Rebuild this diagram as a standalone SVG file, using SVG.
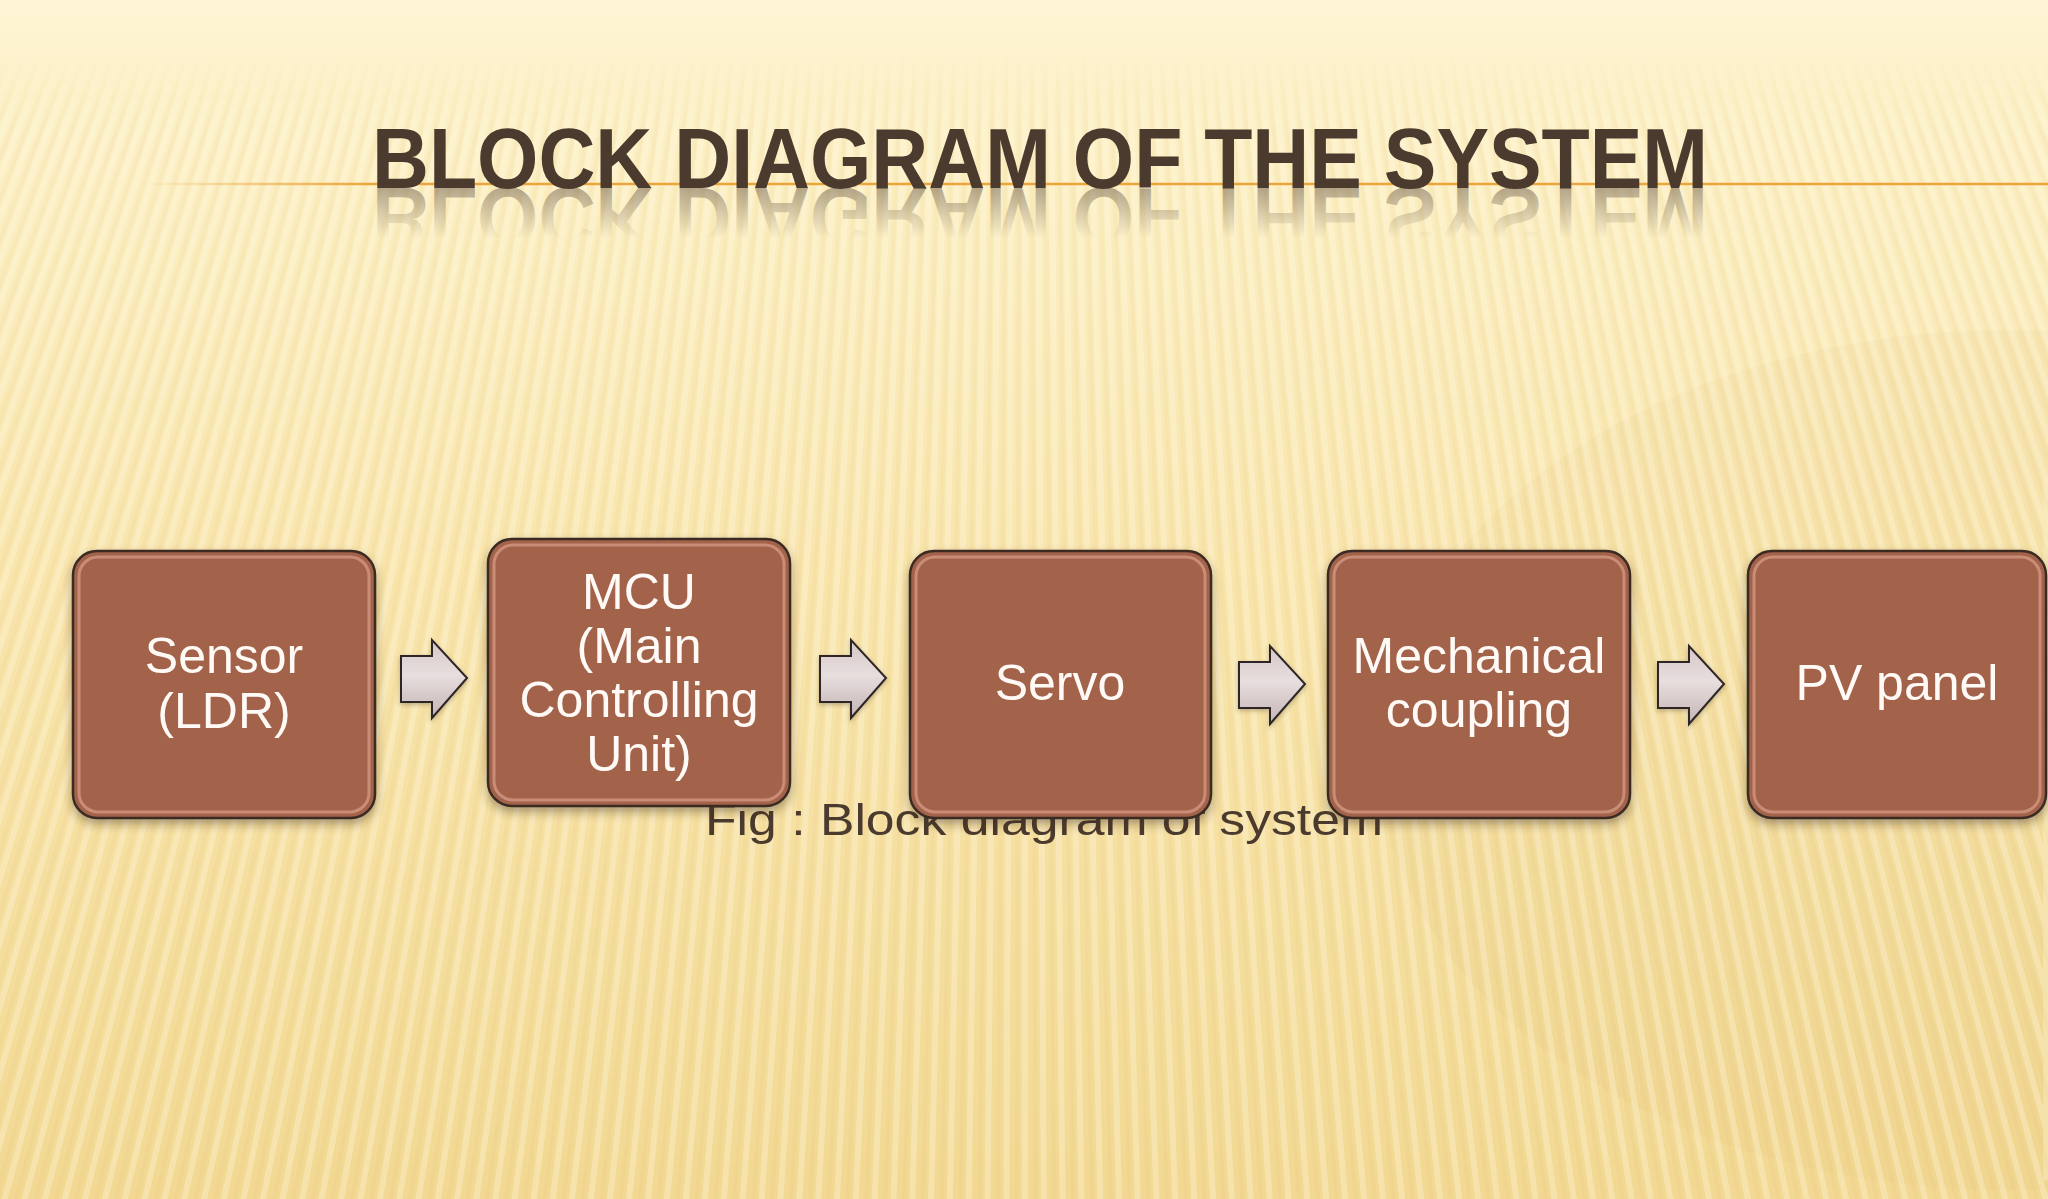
<svg xmlns="http://www.w3.org/2000/svg" xmlns:xlink="http://www.w3.org/1999/xlink" width="2048" height="1199" viewBox="0 0 2048 1199">
  <defs>
    <linearGradient id="bg" x1="0" y1="0" x2="0" y2="1">
      <stop offset="0" stop-color="#fdf5d6"/>
      <stop offset="0.08" stop-color="#fcf0c6"/>
      <stop offset="0.45" stop-color="#f9e6ae"/>
      <stop offset="1" stop-color="#f2d892"/>
    </linearGradient>
    <linearGradient id="stripeFade" gradientUnits="userSpaceOnUse" x1="0" y1="0" x2="0" y2="1199">
      <stop offset="0" stop-color="#000"/>
      <stop offset="0.04" stop-color="#000"/>
      <stop offset="0.11" stop-color="#fff"/>
      <stop offset="1" stop-color="#fff"/>
    </linearGradient>
    <mask id="stripeMask">
      <rect x="0" y="0" width="2048" height="1199" fill="url(#stripeFade)"/>
    </mask>
    <linearGradient id="lineGrad" gradientUnits="userSpaceOnUse" x1="140" y1="0" x2="2048" y2="0">
      <stop offset="0" stop-color="#eba53c" stop-opacity="0"/>
      <stop offset="0.12" stop-color="#eba53c" stop-opacity="1"/>
      <stop offset="1" stop-color="#eba53c" stop-opacity="1"/>
    </linearGradient>
    <linearGradient id="reflGrad" gradientUnits="userSpaceOnUse" x1="0" y1="188" x2="0" y2="138">
      <stop offset="0" stop-color="#6b5a48" stop-opacity="0.5"/>
      <stop offset="1" stop-color="#6b5a48" stop-opacity="0"/>
    </linearGradient>
    <linearGradient id="arrowFill" x1="0" y1="0" x2="0" y2="1">
      <stop offset="0" stop-color="#d6c6c7"/>
      <stop offset="0.45" stop-color="#e8dede"/>
      <stop offset="1" stop-color="#c4b3b5"/>
    </linearGradient>
    <filter id="shadow" x="-10%" y="-10%" width="120%" height="125%">
      <feDropShadow dx="0" dy="5" stdDeviation="5" flood-color="#3a2a1a" flood-opacity="0.4"/>
    </filter>
    <filter id="ashadow" x="-20%" y="-20%" width="140%" height="140%">
      <feDropShadow dx="0" dy="2" stdDeviation="2" flood-color="#3a2a1a" flood-opacity="0.3"/>
    </filter>
    <path id="arrowShape" d="M0,16 H31 V0 L66,38 L31,78 V62 H0 Z"/>
    <style>
      .box { fill: #a3634b; stroke: #3a2b24; stroke-width: 2.5; }
      .bevel { fill: none; stroke: #f0b8a4; stroke-width: 3; stroke-opacity: 0.5; }
      .lbl { font-family: "Liberation Sans", Arial, sans-serif; font-size: 50px; fill: #fffaf6; text-anchor: middle; }
      .arrow { fill: url(#arrowFill); stroke: #2e2626; stroke-width: 2; stroke-linejoin: miter; }
      .title { font-family: "Liberation Sans", Arial, sans-serif; font-weight: bold; font-size: 86px; }
      .caption { font-family: "Liberation Sans", Arial, sans-serif; font-size: 45px; fill: #4b3b2e; }
    </style>
  </defs>

  <!-- background -->
  <g id="background">
    <rect x="0" y="0" width="2048" height="1199" fill="url(#bg)"/>
    <ellipse cx="2010" cy="760" rx="630" ry="430" fill="#d9b460" fill-opacity="0.08"/>
    <g mask="url(#stripeMask)">
      <circle cx="1024" cy="-2500" r="3150" fill="none" stroke="#fffbe8" stroke-opacity="0.3" stroke-width="1400" stroke-dasharray="6 10"/>
      <circle cx="1024" cy="-2500" r="3150" fill="none" stroke="#c9a64e" stroke-opacity="0.06" stroke-width="1400" stroke-dasharray="4 12" stroke-dashoffset="8"/>
    </g>
  </g>

  <!-- title -->
  <g id="title">
    <line x1="140" y1="184" x2="2048" y2="184" stroke="url(#lineGrad)" stroke-width="2.5"/>
    <text class="title" x="372" y="188" transform="translate(0,376) scale(1,-1)" fill="url(#reflGrad)" textLength="1336" lengthAdjust="spacingAndGlyphs">BLOCK DIAGRAM OF THE SYSTEM</text>
    <text class="title" x="372" y="188" fill="#4b3b2e" textLength="1336" lengthAdjust="spacingAndGlyphs">BLOCK DIAGRAM OF THE SYSTEM</text>
  </g>

  <!-- caption (behind boxes) -->
  <g id="caption">
    <text class="caption" x="705" y="835" textLength="678" lengthAdjust="spacingAndGlyphs">Fig : Block diagram of system</text>
  </g>

  <!-- connectors -->
  <g id="connectors" filter="url(#ashadow)">
    <use xlink:href="#arrowShape" href="#arrowShape" class="arrow" transform="translate(401,640)"/>
    <use xlink:href="#arrowShape" href="#arrowShape" class="arrow" transform="translate(820,640)"/>
    <use xlink:href="#arrowShape" href="#arrowShape" class="arrow" transform="translate(1239,646)"/>
    <use xlink:href="#arrowShape" href="#arrowShape" class="arrow" transform="translate(1658,646)"/>
  </g>

  <!-- nodes -->
  <g id="node-sensor" filter="url(#shadow)">
    <rect class="box" x="73" y="551" width="302" height="267" rx="24"/>
    <rect class="bevel" x="79" y="557" width="290" height="255" rx="19"/>
    <text class="lbl" x="224" y="673">Sensor</text>
    <text class="lbl" x="224" y="728">(LDR)</text>
  </g>
  <g id="node-mcu" filter="url(#shadow)">
    <rect class="box" x="488" y="539" width="302" height="267" rx="24"/>
    <rect class="bevel" x="494" y="545" width="290" height="255" rx="19"/>
    <text class="lbl" x="639" y="609">MCU</text>
    <text class="lbl" x="639" y="663">(Main</text>
    <text class="lbl" x="639" y="717">Controlling</text>
    <text class="lbl" x="639" y="771">Unit)</text>
  </g>
  <g id="node-servo" filter="url(#shadow)">
    <rect class="box" x="910" y="551" width="301" height="267" rx="24"/>
    <rect class="bevel" x="916" y="557" width="289" height="255" rx="19"/>
    <text class="lbl" x="1060" y="700">Servo</text>
  </g>
  <g id="node-mechanical" filter="url(#shadow)">
    <rect class="box" x="1328" y="551" width="302" height="267" rx="24"/>
    <rect class="bevel" x="1334" y="557" width="290" height="255" rx="19"/>
    <text class="lbl" x="1479" y="673">Mechanical</text>
    <text class="lbl" x="1479" y="727">coupling</text>
  </g>
  <g id="node-pv" filter="url(#shadow)">
    <rect class="box" x="1748" y="551" width="298" height="267" rx="24"/>
    <rect class="bevel" x="1754" y="557" width="286" height="255" rx="19"/>
    <text class="lbl" x="1897" y="700">PV panel</text>
  </g>
</svg>
